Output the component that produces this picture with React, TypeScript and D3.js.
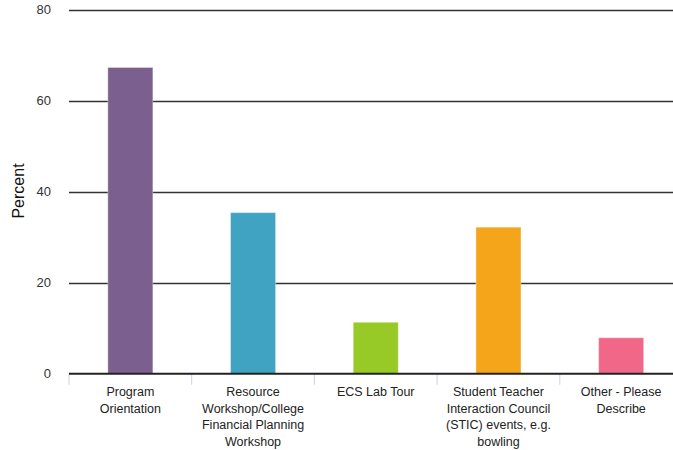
import React, { useEffect, useRef } from "react";
import * as d3 from "d3";

const categories: string[][] = [
  ["Program", "Orientation"],
  ["Resource", "Workshop/College", "Financial Planning", "Workshop"],
  ["ECS Lab Tour"],
  ["Student Teacher", "Interaction Council", "(STIC) events, e.g.", "bowling"],
  ["Other - Please", "Describe"],
];
const values: number[] = [67.3, 35.4, 11.3, 32.2, 7.9];
const colors: string[] = ["#7b5f8e", "#40a3c1", "#97c927", "#f4a51a", "#f06788"];
const yTicks: number[] = [0, 20, 40, 60, 80];
const yLabel = "Percent";

const W = 673;
const H = 450;

export default function App() {
  const ref = useRef<SVGSVGElement>(null);
  useEffect(() => {
    const svg = d3.select(ref.current);
    svg.selectAll("*").remove();
    const x0 = 69;
    const x1 = 682.5;
    const y = d3.scaleLinear().domain([0, 80]).range([373.7, 9.7]);
    const idx = categories.map((_, i) => String(i));
    const x = d3.scaleBand().domain(idx).range([x0, x1]).paddingInner(0.633).paddingOuter(0.3165);
    const font = "'Liberation Sans', Arial, sans-serif";

    // gridlines
    svg.append("g").selectAll("line").data(yTicks.filter((t) => t > 0)).join("line")
      .attr("x1", x0).attr("x2", W)
      .attr("y1", (d) => Math.round(y(d)) + 0.5).attr("y2", (d) => Math.round(y(d)) + 0.5)
      .attr("stroke", "#333").attr("stroke-width", 1.5);

    // y tick labels
    svg.append("g").selectAll("text").data(yTicks).join("text")
      .attr("x", 51).attr("y", (d) => y(d)).attr("dy", "0.35em")
      .attr("text-anchor", "end").attr("font-family", font).attr("font-size", 13)
      .attr("fill", "#333").text((d) => String(d));

    // y label
    svg.append("text")
      .attr("transform", `translate(24,191) rotate(-90)`)
      .attr("text-anchor", "middle").attr("font-family", font).attr("font-size", 16)
      .attr("fill", "#111").text(yLabel);

    // bars
    svg.append("g").selectAll("rect").data(values).join("rect")
      .attr("x", (_, i) => x(String(i))!)
      .attr("width", x.bandwidth())
      .attr("y", (d) => y(d))
      .attr("height", (d) => y(0) - y(d))
      .attr("fill", (_, i) => colors[i])
      .attr("stroke", "rgba(255,255,255,0.35)").attr("stroke-width", 1);

    // category separator ticks
    const seps = d3.range(categories.length + 1).map((i) => x0 + i * x.step());
    svg.append("g").selectAll("line").data(seps).join("line")
      .attr("x1", (d) => d).attr("x2", (d) => d)
      .attr("y1", y(0)).attr("y2", y(0) + 11)
      .attr("stroke", "#c8d2e2").attr("stroke-width", 1);

    // baseline
    svg.append("line").attr("x1", x0).attr("x2", W)
      .attr("y1", y(0)).attr("y2", y(0))
      .attr("stroke", "#222").attr("stroke-width", 2);

    // x labels
    const g = svg.append("g");
    categories.forEach((lines, i) => {
      const cx = x(String(i))! + x.bandwidth() / 2;
      const t = g.append("text").attr("text-anchor", "middle").attr("font-family", font)
        .attr("font-size", 12.5).attr("fill", "#222");
      lines.forEach((ln, j) => {
        t.append("tspan").attr("x", cx).attr("y", 396 + j * 16.5).text(ln);
      });
    });
  }, []);
  return (
    <svg ref={ref} width={W} height={H}
      style={{ position: "absolute", left: 0, top: 0, background: "#fff" }} />
  );
}
